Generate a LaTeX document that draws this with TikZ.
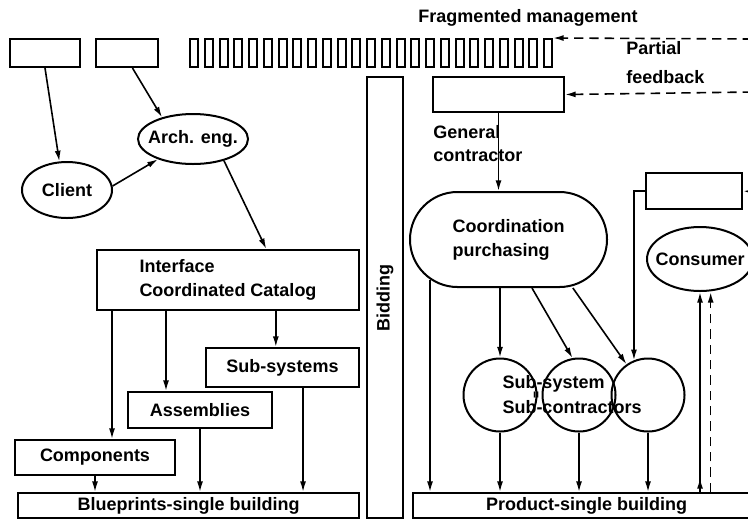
\documentclass[tikz,border=0pt]{standalone}
\usepackage{fontspec}
\setmainfont{Liberation Sans}
\usetikzlibrary{arrows.meta,shapes.geometric}

\begin{document}
\begin{tikzpicture}
    [x=0.75pt,y=-0.75pt,
     every node/.style={font=\fontsize{13.5}{18}\selectfont\bfseries,align=left},
     box/.style={draw,line width=1.5pt,inner sep=0pt},
     oval/.style={ellipse,draw,line width=1.5pt,inner xsep=-8pt,inner ysep=0pt},
     ring/.style={circle,draw,line width=1.5pt,minimum size=54.75pt,inner sep=0pt},
     lbl/.style={inner sep=0pt},
     arr/.style={line width=1.2pt,-{Latex[length=8pt,width=4.5pt]}},
     feed/.style={arr,dash pattern=on 7pt off 4.5pt}]
    \useasboundingbox (0,0) rectangle (748,519);
    \node[box,minimum width=52.5pt,minimum height=21pt] (cl0) at (45,53) {};
    \node[box,minimum width=46.5pt,minimum height=21pt] (ae0) at (127,53) {};
    \foreach \i in {0,...,24}
        \node[box,minimum width=6pt,minimum height=21pt] (t\i) at ({194+\i*14.75},53) {};
    \node[lbl] (frag) at (528,18) {Fragmented management};
    \node[lbl,anchor=west,font=\fontsize{13.5}{21.75}\selectfont\bfseries] (part) at (626,63) {Partial\\feedback};
    \node[oval,minimum width=67.5pt,minimum height=42pt] (client) at (67,190) {Client};
    \node[oval,minimum width=82.5pt,minimum height=37.5pt] (arch) at (193,139) {Arch. eng.};
    \node[box,minimum width=196.5pt,minimum height=45pt] (iface) at (228,280) {Interface\\Coordinated Catalog};
    \node[box,minimum width=114.75pt,minimum height=29.25pt] (subsys) at (282.5,367.5) {Sub-systems};
    \node[box,minimum width=108pt,minimum height=27pt] (assem) at (200,410) {Assemblies};
    \node[box,minimum width=120pt,minimum height=26.25pt] (comp) at (95,457.5) {Components};
    \node[box,minimum width=255.75pt,minimum height=18.75pt] (blue) at (188.5,505.5) {Blueprints-single building};
    \node[box,rotate=90,minimum width=330.75pt,minimum height=27pt] (bid) at (385,297.5) {Bidding};
    \node[box,minimum width=98.25pt,minimum height=26.25pt] (gc) at (498.5,94.5) {};
    \node[lbl,anchor=west,font=\fontsize{13.5}{17.25}\selectfont\bfseries] (gclbl) at (433,143.5) {General\\contractor};
    \node[box,rounded corners=35.6pt,minimum width=147.75pt,minimum height=71.25pt] (coord) at (508.5,239.5) {Coordination\\purchasing};
    \node[box,minimum width=72pt,minimum height=27pt] (rb) at (694,191) {};
    \node[oval,minimum width=79.5pt,minimum height=48pt] (cons) at (700,259) {Consumer};
    \foreach \x/\n in {500/1,579/2,648/3}
        \node[ring] (cir\n) at (\x,395) {};
    \node[lbl,font=\fontsize{13.5}{18.75}\selectfont\bfseries] (subtxt) at (572,395) {Sub-system\\Sub-contractors};
    \node[lbl,rotate=90,font=\fontsize{9}{9}\selectfont\bfseries] (eq) at (537,395) {=};
    \node[box,minimum width=260.25pt,minimum height=18.75pt] (prod) at (586.5,505.5) {Product-single building};
    \coordinate (fragin) at (752,39);
    \coordinate (partin) at (752,92);
    \coordinate (rbin) at (756,192);
    \coordinate (k1) at ([xshift=12pt]iface.south west);
    \coordinate (k2) at ([xshift=52.5pt]iface.south west);
    \coordinate (k3) at ([xshift=-5pt]subsys.north);
    \coordinate (k4) at ([xshift=15.4pt]subsys.south);
    \coordinate (k5) at ([xshift=17.6pt]coord.south);
    \coordinate (k6) at ([xshift=8pt]cons.south);
    \coordinate (k7) at ([shift={(15.75pt,6pt)}]coord.south west);
    \draw[arr] (cl0.south) -- (client.105);
    \draw[arr] (ae0.-70) -- (arch.145);
    \draw[arr] (client.5) -- (arch.210);
    \draw[arr] (arch.-35) -- (iface.39);
    \draw[arr] (k1) -- (k1 |- comp.north);
    \draw[arr] (k2) -- (k2 |- assem.north);
    \draw[arr] (k3 |- iface.south) -- (k3);
    \draw[arr] (comp.south) -- (comp.south |- blue.north);
    \draw[arr] (assem.south) -- (assem.south |- blue.north);
    \draw[arr] (k4) -- (k4 |- blue.north);
    \draw[feed] (fragin) -- (t24.north east);
    \draw[feed] (partin) -- (gc.east);
    \draw[arr] (gc.south) -- (gc.south |- coord.north);
    \draw[arr] (k7) -- (k7 |- prod.north);
    \draw[arr] (cir1.north |- coord.south) -- (cir1.north);
    \draw[arr] (k5) -- (cir2.100);
    \draw[arr] (coord.-37) -- (cir3.125);
    \draw[arr] (rbin) -- (rb.east);
    \draw[arr] (rb.west) -| (cir3.112);
    \foreach \n in {1,2,3}
        \draw[arr] (cir\n.south) -- (cir\n.south |- prod.north);
    \draw[arr] (cons.south |- prod.north) -- (cons.south);
    \draw[arr] (cons.south |- prod.north) -- ++(0,-14);
    \draw[feed] (k6 |- prod.north) -- (k6);
\end{tikzpicture}
\end{document}
